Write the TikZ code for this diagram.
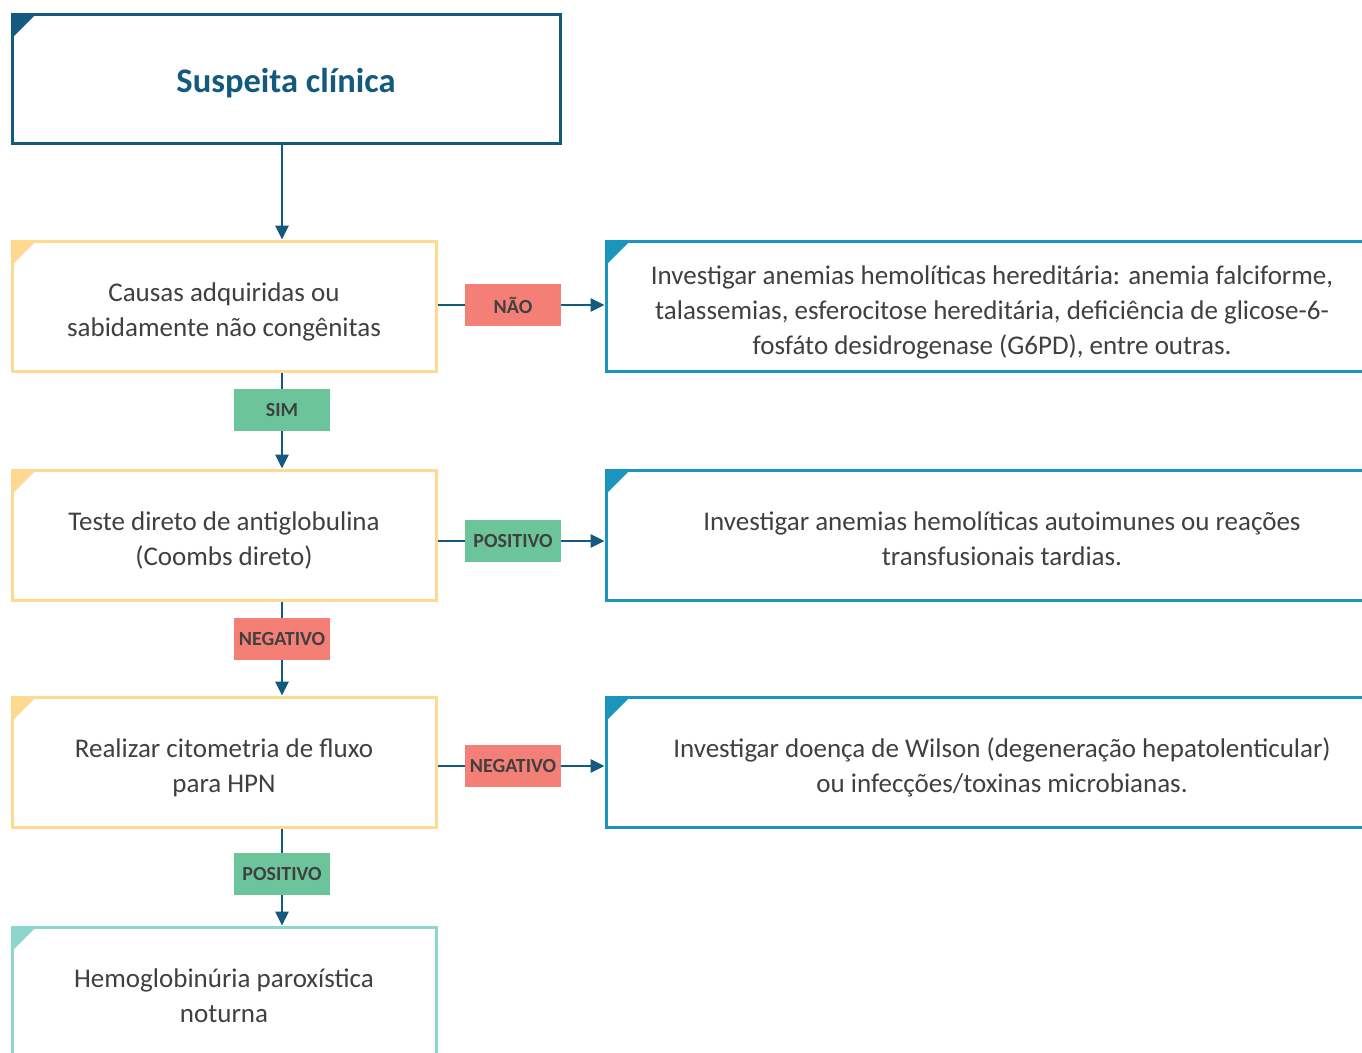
\documentclass[tikz,border=0pt]{standalone}
\usepackage{fontspec}
\setmainfont{Carlito}
\usetikzlibrary{arrows.meta,positioning}

\definecolor{navy}{RGB}{19,90,126}
\definecolor{sand}{RGB}{255,216,145}
\definecolor{sky}{RGB}{27,149,189}
\definecolor{mint}{RGB}{142,214,203}
\definecolor{salmon}{RGB}{244,127,119}
\definecolor{leaf}{RGB}{108,196,155}
\definecolor{ink}{RGB}{64,64,64}

\newcommand{\boxlines}[1]{\raisebox{0pt}[\dimexpr\height+12pt\relax][\depth]{\begin{tabular}{@{}c@{}}#1\end{tabular}}}

\tikzset{
	box/.style={draw=#1, line width=3pt, fill=white,
		minimum width=424pt, minimum height=130pt, text=ink,
		font=\fontsize{27}{35}\selectfont,
		path picture={\fill[#1] (path picture bounding box.north west) -- ++(24,0) -- ++(-24,24) -- cycle;}},
	widebox/.style={box=#1, minimum width=792pt},
	tag/.style={fill=#1, minimum width=96pt, minimum height=42pt, inner sep=0pt,
		text=ink, font=\fontsize{20}{20}\selectfont\bfseries},
	link/.style={navy, line width=2.8pt},
	flow/.style={link, -{Triangle[length=14pt,width=13pt]}}
}

\begin{document}
\begin{tikzpicture}[x=1pt, y=-1pt]
	\useasboundingbox (0,0) rectangle (1362,1052);
	\clip (0,0) rectangle (1362,1052);

	\node[box=navy, minimum width=548pt, minimum height=129pt, text=navy, font=\fontsize{34.5}{34.5}\selectfont\bfseries]
		(suspeita) at (286,78.5) {\raisebox{0pt}[\dimexpr\height+10pt\relax][\depth]{Suspeita clínica}};

	\node[box=sand]	(causas) at (224,306)	{\boxlines{Causas adquiridas ou\\sabidamente não congênitas}};
	\node[box=sand]	(teste) at (224,535)	{\boxlines{Teste direto de antiglobulina\\(Coombs direto)}};
	\node[box=sand]	(cito) at (224,762)	{\boxlines{Realizar citometria de fluxo\\para HPN}};
	\node[box=mint]	(hpn) at (224,992)	{\boxlines{Hemoglobinúria paroxística\\noturna}};

	\node[widebox=sky, minimum width=772pt]	(heredit) at (992,306)	{\boxlines{Investigar anemias hemolíticas hereditária: anemia falciforme,\\talassemias, esferocitose hereditária, deficiência de glicose-6-\\fosfáto desidrogenase (G6PD), entre outras.}};
	\node[widebox=sky]	(autoim) at (1002,535)	{\boxlines{Investigar anemias hemolíticas autoimunes ou reações\\transfusionais tardias.}};
	\node[widebox=sky]	(wilson) at (1002,762)	{\boxlines{Investigar doença de Wilson (degeneração hepatolenticular)\\ou infecções/toxinas microbianas.}};

	\node[tag=salmon]	(nao) at (513,305)	{NÃO};
	\node[tag=leaf]	(sim) at (282,410)	{SIM};
	\node[tag=leaf]	(posA) at (513,541)	{POSITIVO};
	\node[tag=salmon]	(negA) at (282,639)	{NEGATIVO};
	\node[tag=salmon]	(negB) at (513,766)	{NEGATIVO};
	\node[tag=leaf]	(posB) at (282,874)	{POSITIVO};

	\draw[flow]	(suspeita.south -| sim) -- (causas.north -| sim);

	\draw[link]	(causas.east |- nao) -- (nao);
	\draw[flow]	(nao) -- (heredit.west |- nao);
	\draw[link]	(causas.south -| sim) -- (sim);
	\draw[flow]	(sim) -- (teste.north -| sim);

	\draw[link]	(teste.east |- posA) -- (posA);
	\draw[flow]	(posA) -- (autoim.west |- posA);
	\draw[link]	(teste.south -| negA) -- (negA);
	\draw[flow]	(negA) -- (cito.north -| negA);

	\draw[link]	(cito.east |- negB) -- (negB);
	\draw[flow]	(negB) -- (wilson.west |- negB);
	\draw[link]	(cito.south -| posB) -- (posB);
	\draw[flow]	(posB) -- (hpn.north -| posB);
\end{tikzpicture}
\end{document}
